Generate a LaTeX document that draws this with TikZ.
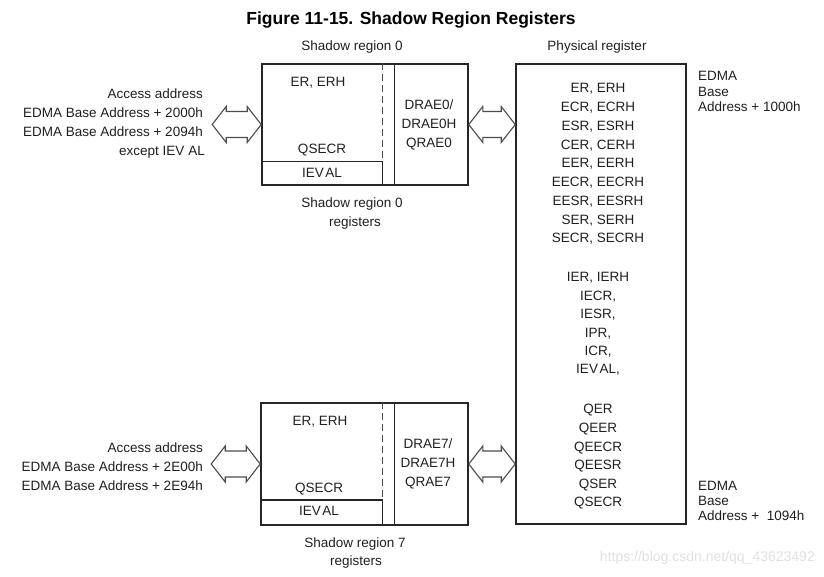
\documentclass[tikz,border=0pt]{standalone}
\usepackage{fontspec}
\setmainfont{Liberation Sans}
\usetikzlibrary{calc}
\tikzset{
  regbox/.style={draw=black!85, line width=1.6pt, inner sep=0pt, fill=none},
  sep/.style={draw=black!85, line width=1.4pt},
  dashsep/.style={draw=black!70, line width=0.8pt, dash pattern=on 7pt off 4pt},
  txt/.style={inner sep=0pt, text height=9.7pt, text depth=0pt, font=\fontsize{13.5}{16}\selectfont, text=black!88},
  hollow/.style={draw=black!70, line width=1.1pt, fill=white, line join=miter},
  wmtext/.style={inner sep=0pt, font=\fontsize{14}{16}\selectfont, text=black!12}
}
\newcommand{\hollowarrow}[2]{%
  \draw[hollow] (#1) -- ++(14,-18) -- ++(0,5) -- ($(#2)+(-14,-13)$) -- ++(0,-5) -- (#2)
    -- ++(-14,18) -- ++(0,-5) -- ($(#1)+(14,13)$) -- ++(0,5) -- cycle;}
\begin{document}
\begin{tikzpicture}[x=1pt,y=-1pt]
\useasboundingbox (0,0) rectangle (824,577);

% title
\node[inner sep=0pt, text height=12.5pt, text depth=0pt, font=\fontsize{17.5}{20}\selectfont\bfseries] (title) at (411,18) {Figure 11-15. Shadow Region Registers};
\node[txt] (hs0) at (352,46) {Shadow region 0};
\node[txt] (hph) at (597,46) {Physical register};

% boxes
\node[regbox, minimum width=206, minimum height=121] (s0) at (365,124.5) {};
\node[regbox, minimum width=207, minimum height=122] (s7) at (364.5,464) {};
\node[regbox, minimum width=170, minimum height=460] (phys) at (601,294) {};

% inner structure of shadow region 0
\draw[sep] ([yshift=24]s0.south west) -| ([xshift=121]s0.south west);
\draw[sep] ([xshift=133]s0.south west) -- ([xshift=133]s0.north west);
\draw[dashsep] ([xshift=121]s0.north west) -- ([xshift=121,yshift=24]s0.south west);
% inner structure of shadow region 7
\draw[sep] ([yshift=26]s7.south west) -| ([xshift=122]s7.south west);
\draw[sep] ([xshift=134]s7.south west) -- ([xshift=134]s7.north west);
\draw[dashsep] ([xshift=122]s7.north west) -- ([xshift=122,yshift=26]s7.south west);

% shadow region 0 texts
\node[txt] (s0a) at (318,82) {ER, ERH};
\node[txt] (s0b) at (322,149) {QSECR};
\node[txt] (s0c) at (322,173) {IEV\kern1.5pt AL};
\node[txt] (s0d) at (429,105) {DRAE0/};
\node[txt] (s0e) at (429,124) {DRAE0H};
\node[txt] (s0f) at (429,143) {QRAE0};
\node[txt] (s0g) at (352,203) {Shadow region 0};
\node[txt] (s0h) at (355,222) {registers};

% shadow region 7 texts
\node[txt] (s7a) at (320,421) {ER, ERH};
\node[txt] (s7b) at (319,488) {QSECR};
\node[txt] (s7c) at (319,511) {IEV\kern1.5pt AL};
\node[txt] (s7d) at (428,444) {DRAE7/};
\node[txt] (s7e) at (428,463) {DRAE7H};
\node[txt] (s7f) at (428,482) {QRAE7};
\node[txt] (s7g) at (355,543) {Shadow region 7};
\node[txt] (s7h) at (356,561) {registers};

% left labels
\node[txt, anchor=east] (l0a) at (203,94) {Access address};
\node[txt, anchor=east] (l0b) at (203,113) {EDMA Base Address + 2000h};
\node[txt, anchor=east] (l0c) at (203,132) {EDMA Base Address + 2094h};
\node[txt, anchor=east] (l0d) at (205,151) {except IEV\kern4pt AL};
\node[txt, anchor=east] (l7a) at (203,448) {Access address};
\node[txt, anchor=east] (l7b) at (203,467) {EDMA Base Address + 2E00h};
\node[txt, anchor=east] (l7c) at (203,486) {EDMA Base Address + 2E94h};

% physical register contents
\foreach \t [count=\i from 0] in {{ER, ERH},{ECR, ECRH},{ESR, ESRH},{CER, CERH},{EER, EERH},{EECR, EECRH},{EESR, EESRH},{SER, SERH},{SECR, SECRH}}
  \node[txt] (pa\i) at (598,{88+18.75*\i}) {\t};
\foreach \t [count=\i from 0] in {{IER, IERH},{IECR,},{IESR,},{IPR,},{ICR,},{IEV\kern1.5pt AL,}}
  \node[txt] (pb\i) at (598,{277+18.4*\i}) {\t};
\foreach \t [count=\i from 0] in {QER,QEER,QEECR,QEESR,QSER,QSECR}
  \node[txt] (pc\i) at (598,{409+18.6*\i}) {\t};

% EDMA address labels
\node[txt, anchor=west] (ea1) at (698,76) {EDMA};
\node[txt, anchor=west] (ea2) at (698,92) {Base};
\node[txt, anchor=west] (ea3) at (698,107) {Address + 1000h};
\node[txt, anchor=west] (eb1) at (698,486) {EDMA};
\node[txt, anchor=west] (eb2) at (698,501) {Base};
\node[txt, anchor=west] (eb3) at (698,516) {Address +\ \ 1094h};

% arrows
\coordinate (a0) at ([xshift=-49]s0.west);
\coordinate (a7) at ([xshift=-49]s7.west);
\coordinate (p0) at (phys.west |- s0.east);
\coordinate (p7) at (phys.west |- s7.east);
\hollowarrow{a0}{s0.west}
\hollowarrow{s0.east}{p0}
\hollowarrow{a7}{s7.west}
\hollowarrow{s7.east}{p7}

% watermark
\node[wmtext, anchor=east] (wm) at (815,558) {https://blog.csdn.net/qq\_43623492};
\end{tikzpicture}
\end{document}
